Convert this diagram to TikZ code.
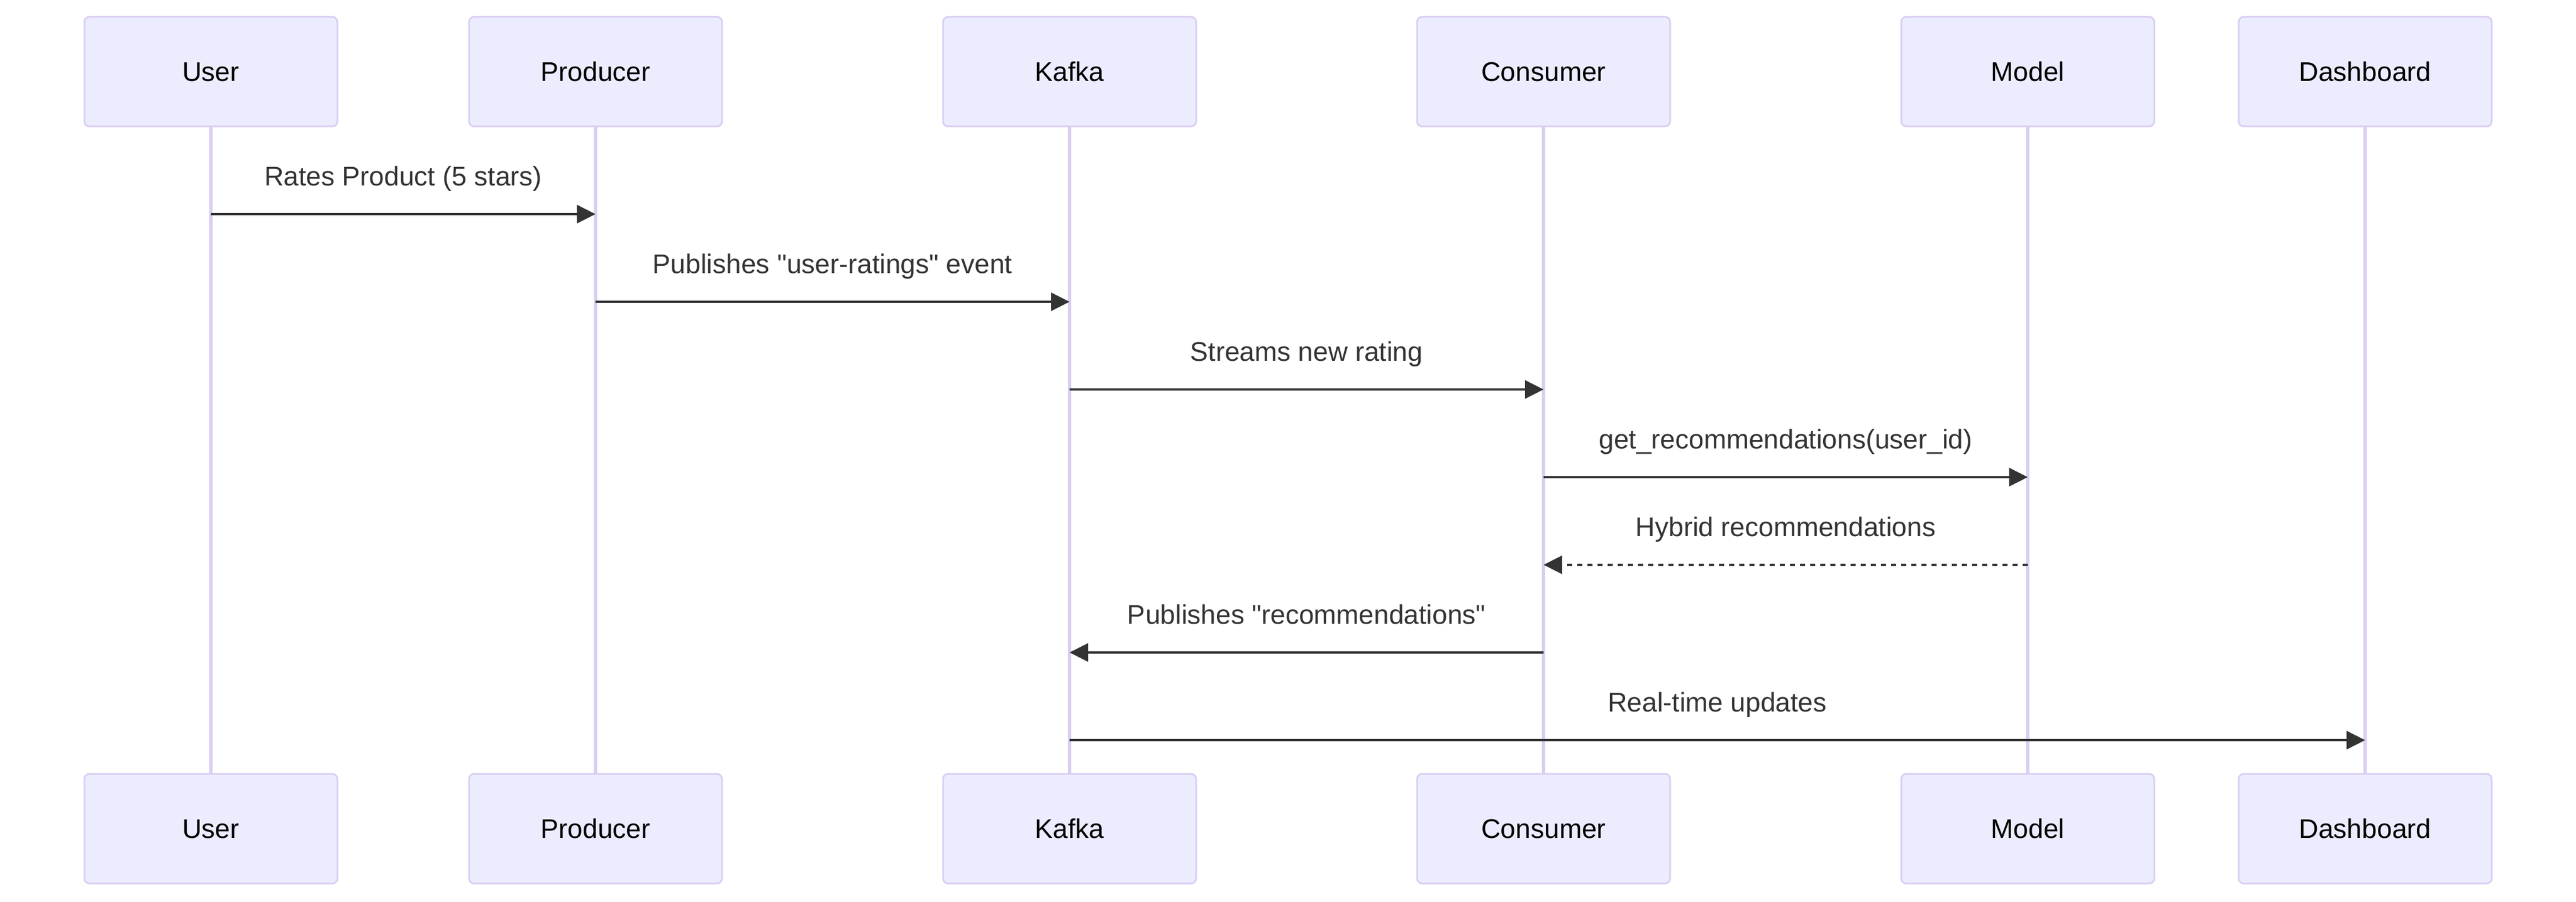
\documentclass[tikz,border=0pt]{standalone}
\usepackage{fontspec}
\setmainfont{Liberation Sans}[Ligatures=TeXOff]
\usetikzlibrary{arrows.meta}
\usepackage{xcolor}
\definecolor{actorfill}{HTML}{ECECFF}
\definecolor{actorline}{HTML}{DACEF3}
\definecolor{msgcol}{HTML}{333333}

\begin{document}
\begin{tikzpicture}[x=1pt, y=-1pt,
	actor/.style={draw=actorline, fill=actorfill, line width=1pt, rounded corners=3pt, minimum width=150pt, minimum height=65pt, inner sep=0pt, text height=11.5pt, text depth=0pt, font=\fontsize{16}{19}\selectfont},
	lifeline/.style={actorline, line width=2pt},
	msg/.style={msgcol, line width=1.5pt, -{Triangle[length=11pt, width=10.7pt]}},
	reply/.style={msg, dash pattern=on 3pt off 3pt},
	msglabel/.style={anchor=base, yshift=16.7pt, text=msgcol, inner sep=0pt, font=\fontsize{16}{19}\selectfont}]
	\useasboundingbox (0,0) rectangle (1527,535);
	
	% Top actors
	\node[actor] (user) at (125,42.5) {User};
	\node[actor] (producer) at (353,42.5) {Producer};
	\node[actor] (kafka) at (634,42.5) {Kafka};
	\node[actor] (consumer) at (915,42.5) {Consumer};
	\node[actor] (model) at (1202,42.5) {Model};
	\node[actor] (dashboard) at (1402,42.5) {Dashboard};
	
	% Bottom actors
	\node[actor] (userB) at (125,491.5) {User};
	\node[actor] (producerB) at (353,491.5) {Producer};
	\node[actor] (kafkaB) at (634,491.5) {Kafka};
	\node[actor] (consumerB) at (915,491.5) {Consumer};
	\node[actor] (modelB) at (1202,491.5) {Model};
	\node[actor] (dashboardB) at (1402,491.5) {Dashboard};
	
	% Lifelines
	\draw[lifeline] (user.south) -- (userB.north);
	\draw[lifeline] (producer.south) -- (producerB.north);
	\draw[lifeline] (kafka.south) -- (kafkaB.north);
	\draw[lifeline] (consumer.south) -- (consumerB.north);
	\draw[lifeline] (model.south) -- (modelB.north);
	\draw[lifeline] (dashboard.south) -- (dashboardB.north);
	
	% Message rows
	\coordinate (m1) at (0,127);
	\coordinate (m2) at (0,179);
	\coordinate (m3) at (0,231);
	\coordinate (m4) at (0,283);
	\coordinate (m5) at (0,335);
	\coordinate (m6) at (0,387);
	\coordinate (m7) at (0,439);
	
	% Messages
	\draw[msg] (user |- m1) -- node[msglabel] {Rates Product (5 stars)} (producer |- m1);
	\draw[msg] (producer |- m2) -- node[msglabel] {Publishes "user-ratings" event} (kafka |- m2);
	\draw[msg] (kafka |- m3) -- node[msglabel] {Streams new rating} (consumer |- m3);
	\draw[msg] (consumer |- m4) -- node[msglabel] {get\_recommendations(user\_id)} (model |- m4);
	\draw[reply] (model |- m5) -- node[msglabel] {Hybrid recommendations} (consumer |- m5);
	\draw[msg] (consumer |- m6) -- node[msglabel] {Publishes "recommendations"} (kafka |- m6);
	\draw[msg] (kafka |- m7) -- node[msglabel] {Real-time updates} (dashboard |- m7);
	
\end{tikzpicture}
\end{document}
